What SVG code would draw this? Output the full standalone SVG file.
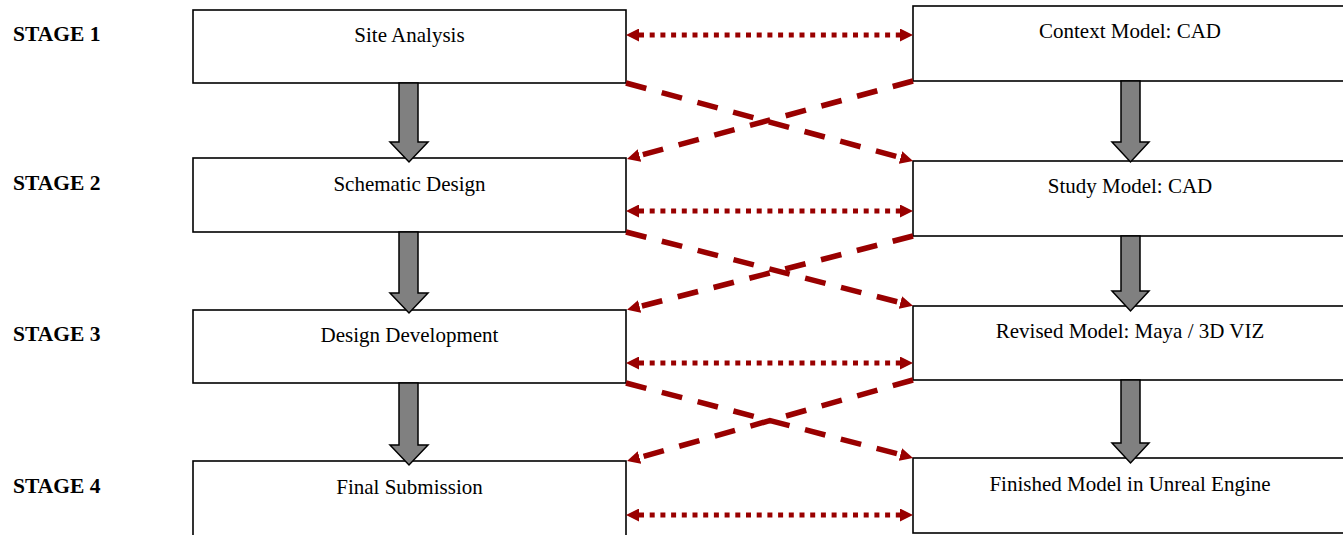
<svg xmlns="http://www.w3.org/2000/svg" width="1343" height="535" viewBox="0 0 1343 535">
<style>
.box{fill:#fff;stroke:#000;stroke-width:1.6}
.t{font-family:"Liberation Serif","Times New Roman",serif;font-size:21px;fill:#000;text-anchor:middle}
.stage{font-family:"Liberation Serif","Times New Roman",serif;font-size:21.5px;font-weight:bold;fill:#000}
.dot{fill:none;stroke:#990000;stroke-width:5;stroke-dasharray:5 5.7}
.dash{fill:none;stroke:#990000;stroke-width:5.5;stroke-dasharray:21 16}
.blk{fill:#808080;stroke:#000;stroke-width:1.5}
</style>
<defs>
<marker id="ah" markerUnits="userSpaceOnUse" markerWidth="13" markerHeight="13" viewBox="0 0 10 10" refX="0" refY="5" orient="auto-start-reverse">
<path d="M0,0 L10,5 L0,10 z" fill="#990000"/>
</marker>
</defs>
<g id="stages">
<text class="stage" x="13" y="41">STAGE 1</text>
<text class="stage" x="13" y="190">STAGE 2</text>
<text class="stage" x="13" y="341">STAGE 3</text>
<text class="stage" x="13" y="493">STAGE 4</text>
</g>
<g id="site-analysis"><rect class="box" x="193" y="10" width="433" height="73"/><text class="t" x="409.5" y="42">Site Analysis</text></g>
<g id="schematic-design"><rect class="box" x="193" y="158" width="433" height="74"/><text class="t" x="409.5" y="191">Schematic Design</text></g>
<g id="design-development"><rect class="box" x="193" y="310" width="433" height="73"/><text class="t" x="409.5" y="342">Design Development</text></g>
<g id="final-submission"><rect class="box" x="193" y="461" width="433" height="80"/><text class="t" x="409.5" y="494">Final Submission</text></g>
<g id="context-model"><rect class="box" x="913" y="6" width="440" height="75"/><text class="t" x="1130" y="38">Context Model: CAD</text></g>
<g id="study-model"><rect class="box" x="913" y="161" width="440" height="75"/><text class="t" x="1130" y="193">Study Model: CAD</text></g>
<g id="revised-model"><rect class="box" x="913" y="306" width="440" height="74"/><text class="t" x="1130" y="338">Revised Model: Maya / 3D VIZ</text></g>
<g id="finished-model"><rect class="box" x="913" y="458" width="440" height="75"/><text class="t" x="1130" y="491">Finished Model in Unreal Engine</text></g>
<g id="connectors">
<path class="dot" d="M639,35 H900" marker-start="url(#ah)" marker-end="url(#ah)"/>
<path class="dot" d="M639,211 H900" marker-start="url(#ah)" marker-end="url(#ah)"/>
<path class="dot" d="M639,363 H900" marker-start="url(#ah)" marker-end="url(#ah)"/>
<path class="dot" d="M639,515 H900" marker-start="url(#ah)" marker-end="url(#ah)"/>
<path class="dash" d="M626,83 L900.5,157.6" marker-end="url(#ah)"/>
<path class="dash" d="M913,81 L639.5,155.6" marker-end="url(#ah)"/>
<path class="dash" d="M626,232 L900.4,302.6" marker-end="url(#ah)"/>
<path class="dash" d="M913,236 L639.6,306.6" marker-end="url(#ah)"/>
<path class="dash" d="M626,383 L900.4,454.6" marker-end="url(#ah)"/>
<path class="dash" d="M913,380 L639.5,457.5" marker-end="url(#ah)"/>
<path class="blk" d="M399,83 H418 V142 H428 L409,162 L390,142 H399 Z"/>
<path class="blk" d="M399,232 H418 V293 H428 L409,313 L390,293 H399 Z"/>
<path class="blk" d="M399,383 H418 V445 H428 L409,465 L390,445 H399 Z"/>
<path class="blk" d="M1121,81 H1140 V142 H1149 L1130.5,162 L1112,142 H1121 Z"/>
<path class="blk" d="M1121,236 H1140 V291 H1149 L1130.5,311 L1112,291 H1121 Z"/>
<path class="blk" d="M1121,380 H1140 V443 H1149 L1130.5,463 L1112,443 H1121 Z"/>
</g>
</svg>
